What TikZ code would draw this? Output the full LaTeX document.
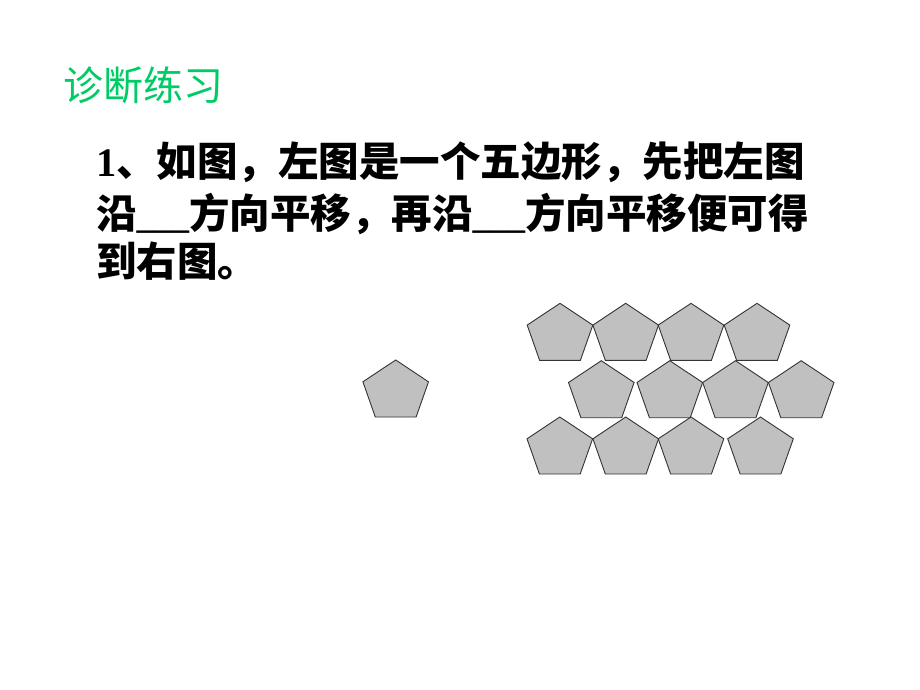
\documentclass[tikz,border=0pt]{standalone}
\usepackage{fontspec}
\setmainfont{Liberation Serif}
\newfontfamily\cjk{Noto Sans CJK SC}
\usepackage{xcolor}
\usetikzlibrary{positioning}

\definecolor{titlegreen}{RGB}{0,204,102}
\definecolor{tilegray}{RGB}{192,192,192}

% one five-sided tile, placed by its top corner
\tikzset{
  pics/tile/.style={code={
    \draw[tile] (0,0) -- (32.8,21.8) -- (20.4,57) -- (-20.4,57) -- (-32.8,21.8) -- cycle;
  }}
}

\begin{document}
\begin{tikzpicture}[
    x=1pt, y=-1pt,
    tile/.style={fill=tilegray, draw=black!80, line width=0.9pt, line join=miter},
    heading/.style={anchor=base west, inner sep=0pt, text=titlegreen,
      font=\cjk\fontsize{40}{40}\selectfont},
    qline/.style={anchor=base west, inner sep=0pt,
      font=\cjk\bfseries\fontsize{40.5}{40.5}\selectfont},
    blank/.style={font=\rmfamily\bfseries\fontsize{35}{35}\selectfont},
  ]
  \useasboundingbox (0,0) rectangle (920,690);

  % heading and question
  \node[heading] (title) at (63,101) {诊断练习};
  \node[qline] (q1) at (96,176) {{\rmfamily 1}、如图，左图是一个五边形，先把左图};
  \node[qline] (q2) at (96,228) {沿{\usefont{TU}{\rmdefault}{b}{n}\fontsize{35}{35}\selectfont\_\_\_}方向平移，再沿{\usefont{TU}{\rmdefault}{b}{n}\fontsize{35}{35}\selectfont\_\_\_}方向平移便可得};
  \node[qline] (q3) at (96,276) {到右图。};

  % left tile
  \pic (single) at (395.7,360) {tile};

  % right pattern, row by row
  \foreach \cx [count=\i] in {560,625.7,691,757}
    \pic (rowa\i) at (\cx,303.3) {tile};
  \foreach \cx [count=\i] in {601.3,669.8,735.5,801.2}
    \pic (rowb\i) at (\cx,360.7) {tile};
  \foreach \cx [count=\i] in {559.8,625.7,691,760.5}
    \pic (rowc\i) at (\cx,417) {tile};
\end{tikzpicture}
\end{document}
